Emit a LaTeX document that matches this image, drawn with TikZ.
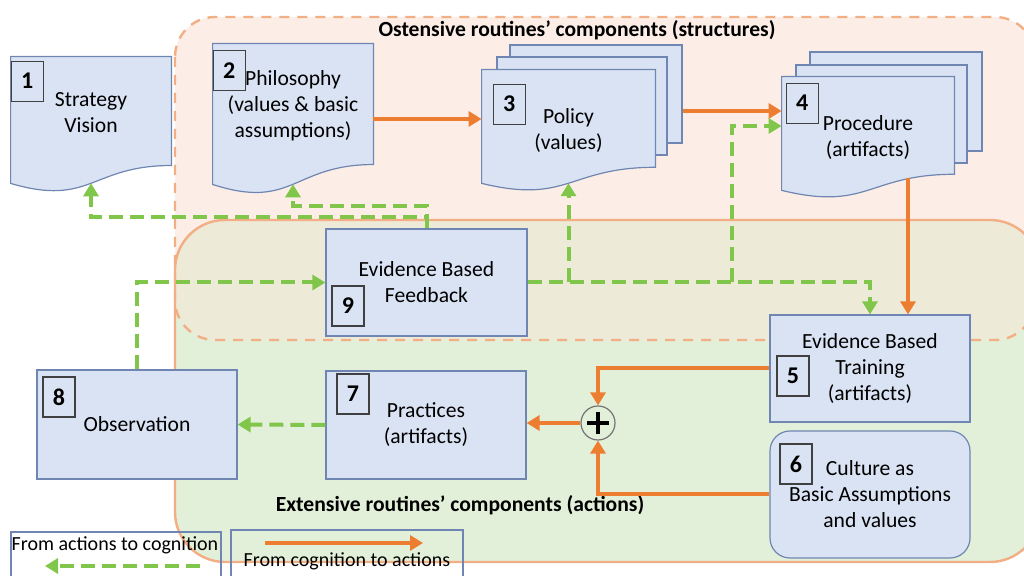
\documentclass[tikz,border=0pt]{standalone}
\usepackage{fontspec}
\setmainfont{Carlito}
\usetikzlibrary{positioning,calc,arrows.meta}

\definecolor{boxfill}{HTML}{DAE3F3}
\definecolor{boxline}{HTML}{6F86B2}
\definecolor{actcol}{HTML}{ED7D31}
\definecolor{cogcol}{HTML}{80C64A}
\definecolor{ostfill}{HTML}{FCEEE6}
\definecolor{ostline}{HTML}{F2AE84}
\definecolor{extfill}{HTML}{E3F0D9}
\definecolor{extline}{HTML}{F2AE84}
\definecolor{bothfill}{HTML}{EEEAD8}

\pgfdeclarelayer{regions}
\pgfdeclarelayer{docs}
\pgfsetlayers{regions,docs,main}

\tikzset{
  base/.style={font=\fontsize{10.8}{13}\selectfont, align=center, inner sep=0pt},
  box/.style={base, draw=boxline, fill=boxfill, line width=0.6pt},
  docu/.style={base},
  page/.style={draw=boxline, fill=boxfill, line width=0.6pt, inner sep=0pt},
  numbox/.style={draw=black!75, fill=boxfill, line width=0.6pt, minimum width=16pt,
    minimum height=20pt, inner sep=0pt, anchor=north west,
    font=\bfseries\fontsize{12}{14}\selectfont},
  legtext/.style={font=\fontsize{10}{12}\selectfont, inner sep=0pt},
  act/.style={draw=actcol, line width=2pt, -{Triangle[length=6.5pt,width=7.5pt]}},
  cog/.style={draw=cogcol, line width=2pt, dash pattern=on 7pt off 3.5pt,
    -{Triangle[length=6.5pt,width=7.5pt]}},
  title/.style={font=\bfseries\fontsize{10.8}{13}\selectfont, inner sep=0pt},
}

%% document outline under a node, wave at the bottom
\newcommand{\docshape}[1]{%
  \begin{pgfonlayer}{docs}
  \path[draw=boxline, fill=boxfill, line width=0.6pt]
    let \p1=(#1.north west), \p2=(#1.south east), \n1={\y1-\y2} in
    (\x1,\y1) -- (\x2,\y1) -- (\x2,{\y2+0.198*\n1})
    .. controls ({(\x1+\x2)/2},{\y2+0.198*\n1}) and ({(\x1+\x2)/2},{\y2-0.1075*\n1})
    .. (\x1,{\y2+0.066*\n1}) -- cycle
    ({(\x1+\x2)/2},{\y2+0.067*\n1}) coordinate (#1w);
  \end{pgfonlayer}}

\begin{document}
\begin{tikzpicture}[x=0.5pt,y=-0.5pt]
	\useasboundingbox (0,0) rectangle (1024,576);
	%% regions
	\begin{pgfonlayer}{regions}
		\fill[ostfill, rounded corners=20pt] (175,17) rectangle (1035,340);
		\fill[extfill, rounded corners=25pt] (175,220) rectangle (1040,562);
		\begin{scope}
			\clip[rounded corners=20pt] (175,17) rectangle (1035,340);
			\fill[bothfill, rounded corners=25pt] (175,220) rectangle (1040,562);
		\end{scope}
		\draw[extline, line width=1.2pt, rounded corners=25pt] (175,220) rectangle (1040,562);
		\draw[ostline, line width=1.2pt, dash pattern=on 5pt off 4pt, rounded corners=20pt]
			(175,17) rectangle (1035,340);
	\end{pgfonlayer}
	\node[title] (ostt) at (577,30) {Ostensive routines’ components (structures)};
	\node[title] (extt) at (460,505) {Extensive routines’ components (actions)};
	%% documents
	\node[docu, minimum width=80pt, minimum height=67.5pt, text depth=12pt] (strat) at (91,124.5) {Strategy\\Vision};
	\docshape{strat}
	\node[numbox] (n1) at ([yshift=-2pt]strat.north west) {1};
	\node[docu, minimum width=80pt, minimum height=75pt, text depth=15pt] (phil) at (293,119) {Philosophy\\(values \& basic\\assumptions)};
	\docshape{phil}
	\node[numbox] (n2) at ([yshift=-3pt]phil.north west) {2};
	%% multi documents
	\begin{pgfonlayer}{docs}
		\node[page, minimum width=86pt, minimum height=49pt] (pol3) at (596,94) {};
		\node[page, minimum width=85pt, minimum height=49pt] (pol2) at (582,106) {};
		\node[page, minimum width=86pt, minimum height=49.5pt] (proc3) at (896,101.5) {};
		\node[page, minimum width=85.5pt, minimum height=49pt] (proc2) at (881.5,114) {};
	\end{pgfonlayer}
	\node[docu, minimum width=86.5pt, minimum height=60.5pt] (pol) at (568.5,130.5) {Policy\\(values)};
	\docshape{pol}
	\node[numbox] (n3) at ([xshift=5.5pt,yshift=-7pt]pol.north west) {3};
	\node[docu, minimum width=86pt, minimum height=60.5pt] (proc) at (868,137.5) {Procedure\\(artifacts)};
	\docshape{proc}
	\node[numbox] (n4) at ([xshift=2pt,yshift=-3pt]proc.north west) {4};
	%% boxes
	\node[box, minimum width=100.5pt, minimum height=53.5pt] (fb) at (426.5,282.5) {Evidence Based\\Feedback};
	\node[numbox] (n9) at ([xshift=3pt,yshift=-28.5pt]fb.north west) {9};
	\node[box, minimum width=100pt, minimum height=53.5pt] (train) at (870,368.5) {Evidence Based\\Training\\(artifacts)};
	\node[numbox] (n5) at ([xshift=3.5pt,yshift=-20.5pt]train.north west) {5};
	\node[box, rounded corners=10pt, minimum width=100pt, minimum height=63.5pt] (cult) at (870,494.5) {Culture as\\Basic Assumptions\\and values};
	\node[numbox] (n6) at ([xshift=5pt,yshift=-6.5pt]cult.north west) {6};
	\node[box, minimum width=100pt, minimum height=54pt] (prac) at (426,425) {Practices\\(artifacts)};
	\node[numbox] (n7) at ([xshift=5.5pt,yshift=-1.5pt]prac.north west) {7};
	\node[box, minimum width=100pt, minimum height=54.5pt] (obs) at (137,424.5) {Observation};
	\node[numbox] (n8) at ([xshift=3pt,yshift=-3.5pt]obs.north west) {8};
	\node[circle, draw=black!55, fill=extfill, line width=0.6pt, minimum size=17pt, inner sep=0pt,
		path picture={\draw[black, line width=2pt]
			([xshift=-5.5pt]path picture bounding box.center) -- ([xshift=5.5pt]path picture bounding box.center)
			([yshift=-5.5pt]path picture bounding box.center) -- ([yshift=5.5pt]path picture bounding box.center);}]
		(plus) at (598,423) {};
	%% from cognition to actions
	\coordinate (pd) at ([xshift=20pt,yshift=10pt]proc.south);
	\draw[act] (phil.east) -- (phil.east -| pol.west);
	\draw[act] ([yshift=-8.5pt]pol3.east) -- ([yshift=-8.5pt]pol3.east -| proc.west);
	\draw[act] (pd) -- (pd |- train.north);
	\draw[act] (train.west) -| (plus.north);
	\draw[act] (cult.west) -| (plus.south);
	\draw[act] (plus.west) -- (plus.west -| prac.east);
	%% from actions to cognition
	\coordinate (fbr) at ([xshift=102pt]fb.east);
	\draw[cog] (fb.north) -- ++(0,-11) -| (stratw);
	\draw[cog] (fb.north) -- ++(0,-22) -| (philw);
	\draw[cog] (fb.east) -| (train.north);
	\draw[cog] (fb.east -| polw) -- (polw);
	\draw[cog] (fbr) |- ([yshift=5.75pt]proc.west);
	\draw[cog] (obs.north) |- (fb.west);
	\draw[cog] (prac.west) -- (obs.east);
	%% legend
	\draw[boxline, line width=0.6pt] (11,580) |- (221,532) -- (221,580);
	\draw[boxline, line width=0.6pt] (231,580) |- (463,530) -- (463,580);
	\node[legtext] (leg1) at (115,545) {From actions to cognition};
	\node[legtext] (leg2) at (347,561) {From cognition to actions};
	\coordinate (l1s) at (200,566);
	\coordinate (l1e) at (45,566);
	\coordinate (l2s) at (265,543);
	\coordinate (l2e) at (423,543);
	\draw[cog] (l1s) -- (l1e);
	\draw[act] (l2s) -- (l2e);
\end{tikzpicture}
\end{document}
